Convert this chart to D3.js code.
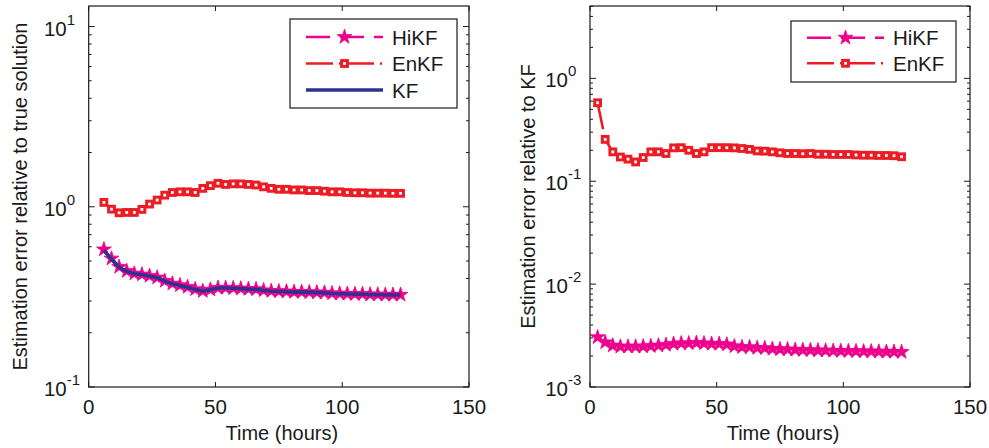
<!DOCTYPE html>
<html>
<head>
<meta charset="utf-8">
<script src="https://cdn.jsdelivr.net/npm/d3@7"></script>
<style>
  html, body { margin: 0; padding: 0; background: #fff; }
  svg { display: block; font-family: "Liberation Sans", Arial, Helvetica, sans-serif; }
</style>
</head>
<body>
<div id="chart"></div>
<script>
const COLORS = {
    HIKF: "#ec008c",
    ENKF: "#ed1c24",
    KF: "#2e3192",
    AXIS: "#1a1a1a",
    TEXT: "#1a1a1a"
};

// left panel: error relative to true solution
const timeLeft = [6, 9, 12, 15, 18, 21, 24, 27, 30, 33, 36, 39, 42, 45, 48, 51, 54, 57, 60, 63,
    66, 69, 72, 75, 78, 81, 84, 87, 90, 93, 96, 99, 102, 105, 108, 111, 114, 117, 120, 123];
const hikfLeft = [0.58, 0.516, 0.464, 0.44, 0.426, 0.421, 0.414, 0.405, 0.388, 0.375,
    0.367, 0.359, 0.349, 0.341, 0.347, 0.355, 0.355, 0.354, 0.352, 0.350,
    0.349, 0.344, 0.341, 0.340, 0.339, 0.337, 0.337, 0.336, 0.335, 0.334,
    0.331, 0.330, 0.329, 0.328, 0.328, 0.326, 0.326, 0.325, 0.325, 0.325];
const enkfLeft = [1.057, 0.97, 0.926, 0.93, 0.93, 0.967, 1.035, 1.09, 1.16, 1.20,
    1.21, 1.21, 1.20, 1.265, 1.31, 1.35, 1.33, 1.34, 1.34, 1.33,
    1.32, 1.29, 1.265, 1.25, 1.25, 1.24, 1.24, 1.23, 1.23, 1.22,
    1.21, 1.21, 1.20, 1.196, 1.196, 1.19, 1.19, 1.19, 1.187, 1.187];
const kfLeft = [0.572, 0.512, 0.462, 0.438, 0.425, 0.42, 0.413, 0.404, 0.387, 0.374,
    0.366, 0.358, 0.348, 0.340, 0.346, 0.354, 0.354, 0.353, 0.351, 0.349,
    0.348, 0.343, 0.340, 0.339, 0.338, 0.336, 0.336, 0.335, 0.334, 0.333,
    0.330, 0.329, 0.328, 0.327, 0.327, 0.325, 0.325, 0.324, 0.324, 0.324];

// right panel: error relative to KF
const timeRight = [3, 6, 9, 12, 15, 18, 21, 24, 27, 30, 33, 36, 39, 42, 45, 48, 51, 54, 57, 60,
    63, 66, 69, 72, 75, 78, 81, 84, 87, 90, 93, 96, 99, 102, 105, 108, 111, 114, 117, 120, 123];
const hikfRight = [0.00305, 0.00272, 0.00253, 0.00247, 0.00247, 0.00247, 0.00248, 0.0025, 0.00253, 0.00257,
    0.00263, 0.00266, 0.00266, 0.00269, 0.00266, 0.00263, 0.00263, 0.00259, 0.00249, 0.00244,
    0.00244, 0.0024, 0.00239, 0.00235, 0.00233, 0.00232, 0.0023, 0.00229, 0.00228, 0.00227,
    0.00226, 0.00225, 0.00224, 0.00224, 0.00223, 0.00222, 0.00222, 0.00221, 0.0022, 0.0022, 0.00219];
const enkfRight = [0.579, 0.255, 0.193, 0.172, 0.164, 0.154, 0.170, 0.193, 0.193, 0.186,
    0.211, 0.212, 0.200, 0.186, 0.193, 0.212, 0.212, 0.212, 0.211, 0.208,
    0.204, 0.197, 0.196, 0.193, 0.189, 0.186, 0.186, 0.185, 0.186, 0.183,
    0.183, 0.182, 0.182, 0.182, 0.180, 0.179, 0.179, 0.178, 0.178, 0.177, 0.173];

const xTicks = [0, 50, 100, 150];
const leftYTicks = [0.1, 1, 10];
const rightYTicks = [0.001, 0.01, 0.1, 1];

const W = 989, H = 448;
const TOP = 6, BOTTOM = 387;

const svg = d3.select("#chart").append("svg")
    .attr("width", W)
    .attr("height", H);
svg.append("rect").attr("width", W).attr("height", H).attr("fill", "#fff");

const starPath = d3.symbol().type(d3.symbolStar).size(68)();

function drawStars(g, pts) {
    g.selectAll(null).data(pts).join("path")
        .attr("d", starPath)
        .attr("transform", d => `translate(${d[0]},${d[1]})`)
        .attr("fill", COLORS.HIKF)
        .attr("stroke", COLORS.HIKF)
        .attr("stroke-width", 0.8);
}
function drawSquares(g, pts) {
    const s = 5.8;
    g.selectAll(null).data(pts).join("rect")
        .attr("x", d => d[0] - s / 2)
        .attr("y", d => d[1] - s / 2)
        .attr("width", s)
        .attr("height", s)
        .attr("fill", "#fff")
        .attr("stroke", COLORS.ENKF)
        .attr("stroke-width", 3);
}

function drawPanel(p) {
    const x = d3.scaleLinear().domain([0, 150]).range([p.left, p.right]);
    const y = d3.scaleLog().domain(p.yDomain).range([BOTTOM, TOP]);
    const g = svg.append("g");

    // series
    const line = d3.line().x(d => x(d[0])).y(d => y(d[1]));
    p.series.forEach(s => {
        const pts = s.times.map((t, i) => [t, s.values[i]]);
        g.append("path")
            .attr("d", line(pts))
            .attr("fill", "none")
            .attr("stroke", s.color)
            .attr("stroke-width", s.width)
            .attr("stroke-dasharray", s.dash || null)
            .attr("stroke-linejoin", "round");
        const xy = pts.map(d => [x(d[0]), y(d[1])]);
        if (s.marker === "star") drawStars(g, xy);
        if (s.marker === "square") drawSquares(g, xy);
    });

    // frame
    g.append("rect")
        .attr("x", p.left).attr("y", TOP)
        .attr("width", p.right - p.left).attr("height", BOTTOM - TOP)
        .attr("fill", "none")
        .attr("stroke", COLORS.AXIS)
        .attr("stroke-width", 1.2);

    // x ticks, inward on bottom and top
    xTicks.forEach(t => {
        const xx = x(t);
        g.append("line").attr("x1", xx).attr("x2", xx).attr("y1", BOTTOM).attr("y2", BOTTOM - 5)
            .attr("stroke", COLORS.AXIS).attr("stroke-width", 1);
        g.append("line").attr("x1", xx).attr("x2", xx).attr("y1", TOP).attr("y2", TOP + 5)
            .attr("stroke", COLORS.AXIS).attr("stroke-width", 1);
        g.append("text")
            .attr("x", xx).attr("y", 414)
            .attr("text-anchor", "middle")
            .attr("font-size", 20.5)
            .attr("fill", COLORS.TEXT)
            .text(t);
    });

    // y ticks: majors + minors on log scale, both sides
    const minors = [];
    p.yTicks.forEach(d => {
        for (let k = 2; k <= 9; k++) {
            const v = d * k;
            if (v < p.yDomain[1]) minors.push(v);
        }
    });
    const tick = (v, len) => {
        const yy = y(v);
        g.append("line").attr("x1", p.left).attr("x2", p.left + len).attr("y1", yy).attr("y2", yy)
            .attr("stroke", COLORS.AXIS).attr("stroke-width", 1);
        g.append("line").attr("x1", p.right).attr("x2", p.right - len).attr("y1", yy).attr("y2", yy)
            .attr("stroke", COLORS.AXIS).attr("stroke-width", 1);
    };
    minors.forEach(v => tick(v, 3));
    p.yTicks.forEach(v => {
        tick(v, 6);
        const yy = y(v);
        const lbl = g.append("text")
            .attr("x", p.left - 23)
            .attr("y", yy + 9)
            .attr("font-size", 20.5)
            .attr("fill", COLORS.TEXT);
        lbl.append("tspan").text("10");
        lbl.append("tspan")
            .attr("dy", -11)
            .attr("font-size", 15)
            .text(Math.round(Math.log10(v)));
        // "10" ends at the same x on every row
        const w10 = lbl.select("tspan").node().getComputedTextLength();
        lbl.attr("x", p.left - 22 - w10);
    });

    // axis titles
    g.append("text")
        .attr("x", (p.left + p.right) / 2 + 3)
        .attr("y", 440)
        .attr("text-anchor", "middle")
        .attr("font-size", 20)
        .attr("fill", COLORS.TEXT)
        .text("Time (hours)");
    g.append("text")
        .attr("transform", `translate(${p.ylabelX},${(TOP + BOTTOM) / 2}) rotate(-90)`)
        .attr("text-anchor", "middle")
        .attr("font-size", 20)
        .attr("fill", COLORS.TEXT)
        .text(p.ylabel);

    // legend
    const lg = svg.append("g");
    const b = p.legend;
    lg.append("rect")
        .attr("x", b.x).attr("y", b.y).attr("width", b.w).attr("height", b.h)
        .attr("fill", "#fff")
        .attr("stroke", COLORS.AXIS)
        .attr("stroke-width", 1.2);
    p.series.forEach((s, i) => {
        const ry = b.rows[i];
        const x1 = b.x + 16, x2 = b.x + 93, xm = (x1 + x2) / 2;
        lg.append("line")
            .attr("x1", x1).attr("x2", x2).attr("y1", ry).attr("y2", ry)
            .attr("stroke", s.color)
            .attr("stroke-width", s.width)
            .attr("stroke-dasharray", s.dash || null);
        if (s.marker === "star") drawStars(lg, [[xm, ry]]);
        if (s.marker === "square") drawSquares(lg, [[xm, ry]]);
        lg.append("text")
            .attr("x", b.x + 102)
            .attr("y", ry + 7.5)
            .attr("font-size", 20.5)
            .attr("fill", COLORS.TEXT)
            .text(s.name);
    });
}

const hikfStyle = { name: "HiKF", color: COLORS.HIKF, width: 2.6, dash: "24,10", marker: "star" };
const enkfStyle = { name: "EnKF", color: COLORS.ENKF, width: 2.6, dash: "27,6,2,6", marker: "square" };
const kfStyle = { name: "KF", color: COLORS.KF, width: 3.6, dash: null, marker: null };

drawPanel({
    left: 88.7, right: 469,
    yDomain: [0.1, 13],
    yTicks: leftYTicks,
    ylabel: "Estimation error relative to true solution",
    ylabelX: 26.5,
    legend: { x: 290, y: 19, w: 167, h: 89, rows: [37, 63.5, 90] },
    series: [
        Object.assign({ times: timeLeft, values: hikfLeft }, hikfStyle),
        Object.assign({ times: timeLeft, values: enkfLeft }, enkfStyle),
        Object.assign({ times: timeLeft, values: kfLeft }, kfStyle)
    ]
});

drawPanel({
    left: 590, right: 970,
    yDomain: [0.001, 5.05],
    yTicks: rightYTicks,
    ylabel: "Estimation error relative to KF",
    ylabelX: 535,
    legend: { x: 791, y: 21, w: 165, h: 61, rows: [37.7, 63.3] },
    series: [
        Object.assign({ times: timeRight, values: hikfRight }, hikfStyle),
        Object.assign({ times: timeRight, values: enkfRight }, enkfStyle)
    ]
});
</script>
</body>
</html>
